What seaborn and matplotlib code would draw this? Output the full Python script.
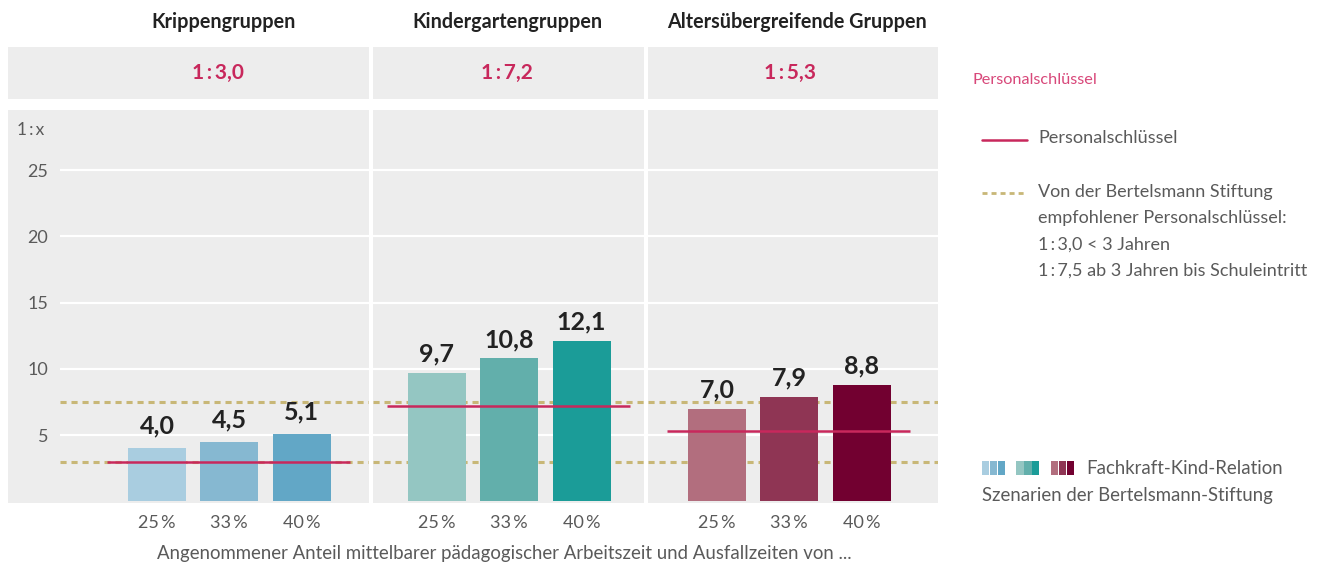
import matplotlib
matplotlib.use("Agg")
import matplotlib.pyplot as plt
from matplotlib.lines import Line2D
from matplotlib.patches import Rectangle
import matplotlib.transforms as mtransforms
import numpy as np
import pandas as pd
import seaborn as sns

# ---------------- data ----------------
groups = ["Krippengruppen", "Kindergartengruppen", "Altersübergreifende Gruppen"]
ratios = ["1\u2009:\u20093,0", "1\u2009:\u20097,2", "1\u2009:\u20095,3"]
key_values = [3.0, 7.2, 5.3]            # Personalschlüssel per group
scenarios = ["25\u2009%", "33\u2009%", "40\u2009%"]
krippe = [4.0, 4.5, 5.1]
kiga = [9.7, 10.8, 12.1]
alters = [7.0, 7.9, 8.8]
recommended = [3.0, 7.5]                 # Bertelsmann recommendation
yticks = [5, 10, 15, 20, 25]

pal_blue = ["#a9cde0", "#86b8d1", "#62a7c6"]
pal_teal = ["#94c6c2", "#62afab", "#1b9c98"]
pal_red = ["#b26e7e", "#8f3554", "#720030"]
palettes = [pal_blue, pal_teal, pal_red]

CRIMSON = "#c8285c"
KHAKI = "#c8b777"
GREY_BG = "#ededed"
TXT = "#5a5a5a"
DARK = "#222222"
LW = "normal"

df = pd.DataFrame({
    "group": np.repeat(groups, 3),
    "scenario": scenarios * 3,
    "value": krippe + kiga + alters,
})

sns.set_style("white")
plt.rcParams["font.family"] = ["Lato", "DejaVu Sans"]

W, H = 1324, 565
fig = plt.figure(figsize=(W / 100, H / 100), dpi=100)


def fx(px):
    return px / W


def fy(py):
    return 1 - py / H


ranges = [(8, 369), (373, 644), (648, 938)]
zeros = [157, 437, 717]
ppu = 72.3
label_off = [10.5, 8, 8]
title_x = [0.92, 0.97, 1.1]
ratio_x = [0.84, 0.97, 1.01]

for i, g in enumerate(groups):
    x0, x1 = ranges[i]
    z = zeros[i]
    ax = fig.add_axes([fx(x0), fy(503), fx(x1 - x0), (503 - 110) / H])
    hax = fig.add_axes([fx(x0), fy(99), fx(x1 - x0), (99 - 47) / H])
    sub = df[df["group"] == g]
    sns.barplot(data=sub, x="scenario", y="value", hue="scenario",
                palette=palettes[i], legend=False, width=0.8,
                saturation=1, ax=ax, zorder=2, linewidth=0)
    xlo, xhi = (x0 - z) / ppu, (x1 - z) / ppu
    ax.set_xlim(xlo, xhi)
    ax.set_ylim(-0.13, 29.53)
    ax.set_facecolor(GREY_BG)
    for s in ax.spines.values():
        s.set_visible(False)
    ax.set_xlabel("")
    ax.set_ylabel("")

    gstart = (60 - z) / ppu if i == 0 else xlo
    ax.hlines(yticks, gstart, xhi, colors="white", lw=1.6, zorder=0.5)
    ax.hlines(recommended, gstart, xhi, colors=KHAKI, lw=2.2,
              linestyles=(0, (2.0, 1.6)), zorder=0.8)
    ax.hlines(key_values[i], -0.69, 2.67, colors=CRIMSON, lw=1.8, zorder=3)

    vals = sub["value"].tolist()
    for j, v in enumerate(vals):
        ax.annotate(f"{v:.1f}".replace(".", ","), (j, v),
                    xytext=(0, label_off[i]), textcoords="offset points",
                    ha="center", va="baseline", fontsize=18,
                    fontweight="bold", color=DARK)

    ax.set_xticks([0, 1, 2], scenarios)
    ax.tick_params(axis="x", length=0, pad=9, labelsize=13, labelcolor=TXT)
    if i == 0:
        ax.set_yticks(yticks, [str(t) for t in yticks])
        ax.tick_params(axis="y", length=0, pad=-29, labelsize=13,
                       labelcolor=TXT)
        ax.text((17 - x0) / (x1 - x0), (503 - 130) / (503 - 110),
                "1\u2009:\u2009x", transform=ax.transAxes, ha="left",
                va="center", fontsize=12.5, color=TXT, fontweight=LW)
    else:
        ax.set_yticks([])

    hax.set_facecolor(GREY_BG)
    hax.set_xlim(xlo, xhi)
    hax.set_ylim(0, 1)
    hax.set_xticks([])
    hax.set_yticks([])
    for s in hax.spines.values():
        s.set_visible(False)
    hax.text(ratio_x[i], 0.5, ratios[i], ha="center", va="center",
             fontsize=15, fontweight="bold", color=CRIMSON)
    tr = mtransforms.blended_transform_factory(hax.transData, fig.transFigure)
    hax.text(title_x[i], fy(22), g, transform=tr, ha="center", va="center",
             fontsize=14.2, fontweight="bold", color=DARK, clip_on=False)

# x axis caption
fig.text(fx(504), fy(553),
         "Angenommener Anteil mittelbarer pädagogischer Arbeitszeit und Ausfallzeiten von ...",
         ha="center", va="center", fontsize=13.4, color=TXT, fontweight=LW)

# ---------------- legend ----------------
fig.text(fx(972), fy(80), "Personalschlüssel", color="#d8487a", fontsize=11.7,
         va="center", ha="left", fontweight=LW)
fig.add_artist(Line2D([fx(982), fx(1027)], [fy(140), fy(140)], color=CRIMSON,
                      lw=1.8, transform=fig.transFigure))
fig.text(fx(1038), fy(138), "Personalschlüssel", fontsize=13.1, color=TXT,
         va="center", ha="left", fontweight=LW)
fig.add_artist(Line2D([fx(982), fx(1027)], [fy(193), fy(193)], color=KHAKI,
                      lw=2.0, ls=(0, (1.8, 1.45)), transform=fig.transFigure))
leg_lines = ["Von der Bertelsmann Stiftung",
             "empfohlener Personalschlüssel:",
             "1\u2009:\u20093,0 < 3 Jahren",
             "1\u2009:\u20097,5 ab 3 Jahren bis Schuleintritt"]
for k, line in enumerate(leg_lines):
    fig.text(fx(1038), fy(192 + k * 26.3), line, fontsize=13, color=TXT,
             va="center", ha="left", fontweight=LW)

for gi, pal in enumerate(palettes):
    for k, c in enumerate(pal):
        fig.add_artist(Rectangle((fx(982 + gi * 34.5 + k * 7.8), fy(475)),
                                 fx(7.3), 14 / H, color=c, lw=0,
                                 transform=fig.transFigure))
fig.text(fx(1086), fy(468), "Fachkraft-Kind-Relation", fontsize=13.4,
         color=TXT, va="center", ha="left", fontweight=LW)
fig.text(fx(982), fy(495), "Szenarien der Bertelsmann-Stiftung", fontsize=13.4,
         color=TXT, va="center", ha="left", fontweight=LW)

fig.savefig("out.png", dpi=100, facecolor="white")
